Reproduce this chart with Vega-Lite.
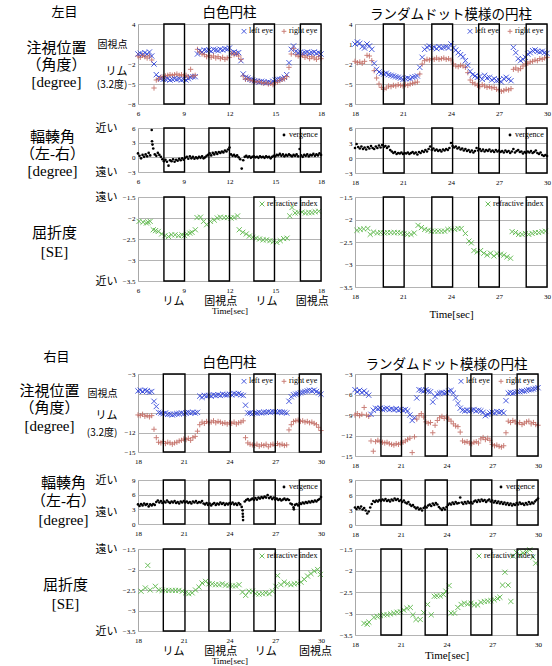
{
"$schema":"https://vega.github.io/schema/vega-lite/v6.json",
"background":"white",
"padding":{"left":18,"top":4,"right":0,"bottom":0},
"autosize":{"type":"pad"},
"config":{
 "view":{"stroke":"#a8a8a8","strokeWidth":1},
 "axis":{"labelFont":"Liberation Serif","labelFontSize":7,"labelColor":"#000","domain":false,"ticks":false,"gridColor":"#b4b4b4","gridWidth":1,"titleFont":"Liberation Serif","titleFontWeight":"normal","titleColor":"#000","labelOverlap":false},
 "axisX":{"grid":false,"labelPadding":5,"labelFlush":false},
 "axisY":{"labelPadding":3},
 "title":{"font":"Noto Sans CJK JP","fontSize":13.5,"fontWeight":"normal","offset":-1,"color":"#000"},
 "legend":{"orient":"top-right","direction":"horizontal","offset":3,"padding":0,"labelFont":"Liberation Serif","labelFontSize":8,"labelColor":"#000","symbolSize":22,"symbolStrokeWidth":1,"columnPadding":6,"labelOffset":1,"labelLimit":200}
},
"datasets":{
"b1":[{"a":7.7,"b":9.05},{"a":10.65,"b":12},{"a":13.6,"b":14.95},{"a":16.65,"b":18}],
"b2":[{"a":19.77,"b":21.07},{"a":22.8,"b":24.1},{"a":25.73,"b":27.02},{"a":28.7,"b":30}],
"b3":[{"a":19.66,"b":21.08},{"a":22.65,"b":24.05},{"a":25.6,"b":27},{"a":28.58,"b":30}],
"b4":[{"a":19.7,"b":21.05},{"a":22.6,"b":24.05},{"a":25.6,"b":26.97},{"a":28.63,"b":30}],
"g1":[{"t":6,"L":-0.5,"R":-0.8},{"t":6.15,"L":-0.4,"R":-1},{"t":6.3,"L":-0.6,"R":-0.7},{"t":6.45,"L":-0.3,"R":-0.9},{"t":6.6,"L":-0.5,"R":-1.1},{"t":6.75,"L":-0.2,"R":-0.8},{"t":6.9,"L":-0.8,"R":-1.4},{"t":7.05,"L":-2,"R":-5.6},{"t":7.2,"L":-3.6,"R":-4.4},{"t":7.35,"L":-4,"R":-4.3},{"t":7.5,"L":-4.2,"R":-4},{"t":7.65,"L":-4.3,"R":-3.9},{"t":7.8,"L":-4.3,"R":-3.8},{"t":7.95,"L":-4.2,"R":-3.7},{"t":8.1,"L":-4.4,"R":-3.6},{"t":8.25,"L":-4.3,"R":-3.7},{"t":8.4,"L":-4.2,"R":-3.6},{"t":8.55,"L":-4.3,"R":-3.5},{"t":8.7,"L":-4.2,"R":-3.7},{"t":8.85,"L":-4.4,"R":-3.6},{"t":9,"L":-4.3,"R":-3.8},{"t":9.15,"L":-4.4,"R":-3.7},{"t":9.3,"L":-4.2,"R":-3.9},{"t":9.45,"L":-4,"R":-2.8},{"t":9.6,"L":-3.9,"R":-3.8},{"t":9.75,"L":-3.9,"R":-3.7},{"t":9.9,"L":-0.5,"R":0.2},{"t":10.05,"L":0,"R":-0.2},{"t":10.2,"L":-0.2,"R":-0.5},{"t":10.35,"L":0.1,"R":-0.6},{"t":10.5,"L":0,"R":-0.9},{"t":10.65,"L":0.1,"R":-0.7},{"t":10.8,"L":-0.1,"R":-1},{"t":10.95,"L":0.2,"R":-0.8},{"t":11.1,"L":0.1,"R":-1.1},{"t":11.25,"L":0,"R":-0.9},{"t":11.4,"L":0.2,"R":-1.2},{"t":11.55,"L":0.1,"R":-1},{"t":11.7,"L":0.3,"R":-1.3},{"t":11.85,"L":0.2,"R":-1.1},{"t":12,"L":0.4,"R":-1},{"t":12.15,"L":-0.3,"R":-0.4},{"t":12.3,"L":-0.2,"R":-0.6},{"t":12.45,"L":-0.4,"R":-0.5},{"t":12.6,"L":-0.3,"R":-0.8},{"t":12.75,"L":-1.5,"R":-1.3},{"t":12.9,"L":-3.5,"R":-3.8},{"t":13.05,"L":-4,"R":-4.3},{"t":13.2,"L":-4.1,"R":-4.2},{"t":13.35,"L":-4.3,"R":-4.4},{"t":13.5,"L":-4.4,"R":-4.5},{"t":13.65,"L":-4.5,"R":-4.6},{"t":13.8,"L":-4.6,"R":-4.7},{"t":13.95,"L":-4.7,"R":-4.6},{"t":14.1,"L":-4.6,"R":-4.8},{"t":14.25,"L":-4.7,"R":-4.9},{"t":14.4,"L":-4.8,"R":-4.8},{"t":14.55,"L":-4.7,"R":-5},{"t":14.7,"L":-4.8,"R":-4.9},{"t":14.85,"L":-4.6,"R":-5.1},{"t":15,"L":-4.4,"R":-4.8},{"t":15.15,"L":-4.3,"R":-4.7},{"t":15.3,"L":-4.3,"R":-4.5},{"t":15.45,"L":-4.2,"R":-4.3},{"t":15.6,"L":-4,"R":-4.2},{"t":15.75,"L":-3.6,"R":-3.9},{"t":15.9,"L":-1.8,"R":-2.5},{"t":16.05,"L":0.2,"R":-0.5},{"t":16.2,"L":0.7,"R":0.3},{"t":16.35,"L":-0.1,"R":-0.6},{"t":16.5,"L":-0.3,"R":-0.8},{"t":16.65,"L":-0.2,"R":-0.9},{"t":16.8,"L":-0.4,"R":-0.7},{"t":16.95,"L":-0.3,"R":-1},{"t":17.1,"L":-0.2,"R":-0.8},{"t":17.25,"L":-0.4,"R":-1.2},{"t":17.4,"L":-0.3,"R":-0.9},{"t":17.55,"L":-0.2,"R":-1.1},{"t":17.7,"L":-0.4,"R":-1.3},{"t":17.85,"L":-0.3,"R":-0.9},{"t":18,"L":-0.5,"R":-1.2}],
"g2":[{"t":18,"L":1,"R":-1.6},{"t":18.15,"L":1.3,"R":-1.8},{"t":18.3,"L":1.1,"R":-1.7},{"t":18.45,"L":0.6,"R":-1.9},{"t":18.6,"L":0.4,"R":-1.6},{"t":18.75,"L":1,"R":-0.7},{"t":18.9,"L":0.7,"R":-0.8},{"t":19.05,"L":0.2,"R":-1.5},{"t":19.2,"L":-1.9,"R":-3},{"t":19.35,"L":-2.8,"R":-4.1},{"t":19.5,"L":-3.2,"R":-5},{"t":19.65,"L":-3.4,"R":-5.5},{"t":19.8,"L":-3.5,"R":-5.8},{"t":19.95,"L":-3.4,"R":-5.6},{"t":20.1,"L":-3.6,"R":-5.3},{"t":20.25,"L":-3.7,"R":-5.4},{"t":20.4,"L":-3.8,"R":-5.2},{"t":20.55,"L":-3.9,"R":-5.3},{"t":20.7,"L":-4,"R":-5.1},{"t":20.85,"L":-4.1,"R":-5.2},{"t":21,"L":-4.3,"R":-5.3},{"t":21.15,"L":-4.2,"R":-5.1},{"t":21.3,"L":-4.1,"R":-5.2},{"t":21.45,"L":-4.2,"R":-5},{"t":21.6,"L":-4,"R":-4.9},{"t":21.75,"L":-3.9,"R":-4.8},{"t":21.9,"L":-3.8,"R":-4.7},{"t":22.05,"L":-2.5,"R":-3.5},{"t":22.2,"L":-1,"R":-2},{"t":22.35,"L":0.2,"R":-1.5},{"t":22.5,"L":0.5,"R":-1.3},{"t":22.65,"L":0.7,"R":-1.4},{"t":22.8,"L":0.4,"R":-1.2},{"t":22.95,"L":0.5,"R":-1.3},{"t":23.1,"L":0.3,"R":-1.1},{"t":23.25,"L":0.6,"R":-1.3},{"t":23.4,"L":0.4,"R":-1.2},{"t":23.55,"L":0.5,"R":-1.1},{"t":23.7,"L":0.6,"R":-1.3},{"t":23.85,"L":0.4,"R":-1.2},{"t":24,"L":1,"R":-1.4},{"t":24.15,"L":0.4,"R":-2},{"t":24.3,"L":0.1,"R":-2.3},{"t":24.45,"L":-0.3,"R":-2.4},{"t":24.6,"L":-0.6,"R":-2.2},{"t":24.75,"L":-0.9,"R":-2.3},{"t":24.9,"L":-1.5,"R":-2.5},{"t":25.05,"L":-2.2,"R":-3.3},{"t":25.2,"L":-3.1,"R":-4.4},{"t":25.35,"L":-3.6,"R":-4.8},{"t":25.5,"L":-3.8,"R":-5},{"t":25.65,"L":-4,"R":-5.2},{"t":25.8,"L":-3.9,"R":-5.4},{"t":25.95,"L":-4.3,"R":-5.1},{"t":26.1,"L":-3.7,"R":-5.3},{"t":26.25,"L":-4.1,"R":-5.5},{"t":26.4,"L":-4,"R":-5.4},{"t":26.55,"L":-4.4,"R":-5.6},{"t":26.7,"L":-4.2,"R":-5.5},{"t":26.85,"L":-4.5,"R":-5.8},{"t":27,"L":-4.4,"R":-5.9},{"t":27.15,"L":-4.7,"R":-6.1},{"t":27.3,"L":-4.2,"R":-6},{"t":27.45,"L":-4,"R":-5.8},{"t":27.6,"L":-4.3,"R":-5.9},{"t":27.75,"L":-4.5,"R":-5.7},{"t":27.9,"L":0.5,"R":-2.8},{"t":28.05,"L":-0.3,"R":-2.6},{"t":28.2,"L":-1.2,"R":-2.9},{"t":28.35,"L":-1.5,"R":-2.7},{"t":28.5,"L":-1.3,"R":-2.3},{"t":28.65,"L":-1,"R":-2},{"t":28.8,"L":-0.5,"R":-1.9},{"t":28.95,"L":-0.3,"R":-1.7},{"t":29.1,"L":0,"R":-1.6},{"t":29.25,"L":0.1,"R":-1.4},{"t":29.4,"L":-0.1,"R":-1.5},{"t":29.55,"L":-0.2,"R":-1.2},{"t":29.7,"L":-0.1,"R":-1.3},{"t":29.85,"L":-0.3,"R":-1.1},{"t":30,"L":-0.4,"R":-1}],
"g3":[{"t":18,"L":-5.6,"R":-9.3},{"t":18.15,"L":-5.5,"R":-9.4},{"t":18.3,"L":-5.7,"R":-9.2},{"t":18.45,"L":-5.5,"R":-9.5},{"t":18.6,"L":-5.6,"R":-9.4},{"t":18.75,"L":-5.8,"R":-9.6},{"t":18.9,"L":-5.7,"R":-9.4},{"t":19.05,"L":-7.2,"R":-11.5},{"t":19.2,"L":-8,"R":-12.8},{"t":19.35,"L":-8.9,"R":-13.5},{"t":19.5,"L":-9,"R":-13.6},{"t":19.65,"L":-9.1,"R":-13.4},{"t":19.8,"L":-9,"R":-13.7},{"t":19.95,"L":-9.2,"R":-13.5},{"t":20.1,"L":-9.2,"R":-13.6},{"t":20.25,"L":-9.3,"R":-13.8},{"t":20.4,"L":-9.2,"R":-13.6},{"t":20.55,"L":-9.1,"R":-13.5},{"t":20.7,"L":-9.1,"R":-13.3},{"t":20.85,"L":-9,"R":-13.2},{"t":21,"L":-9.1,"R":-13},{"t":21.15,"L":-9,"R":-13.1},{"t":21.3,"L":-8.9,"R":-12.9},{"t":21.45,"L":-9,"R":-13.2},{"t":21.6,"L":-8.9,"R":-12.8},{"t":21.75,"L":-9,"R":-12.6},{"t":21.9,"L":-8.9,"R":-11.8},{"t":22.05,"L":-6.4,"R":-10.8},{"t":22.2,"L":-6.6,"R":-10.4},{"t":22.35,"L":-6.3,"R":-10.6},{"t":22.5,"L":-6.4,"R":-10.3},{"t":22.65,"L":-6.3,"R":-10.5},{"t":22.8,"L":-6.4,"R":-10.4},{"t":22.95,"L":-6.2,"R":-10.2},{"t":23.1,"L":-6.3,"R":-10.5},{"t":23.25,"L":-6.2,"R":-10.3},{"t":23.4,"L":-6.3,"R":-10.4},{"t":23.55,"L":-6.1,"R":-10.6},{"t":23.7,"L":-6.2,"R":-10.5},{"t":23.85,"L":-6.2,"R":-10.7},{"t":24,"L":-6.1,"R":-10.5},{"t":24.15,"L":-6.2,"R":-10.6},{"t":24.3,"L":-6,"R":-10.4},{"t":24.45,"L":-6.1,"R":-10.7},{"t":24.6,"L":-6,"R":-10.5},{"t":24.75,"L":-6.2,"R":-10.4},{"t":24.9,"L":-6.3,"R":-10.2},{"t":25.05,"L":-7.8,"R":-12.8},{"t":25.2,"L":-9,"R":-13.6},{"t":25.35,"L":-9,"R":-13.8},{"t":25.5,"L":-9.1,"R":-13.9},{"t":25.65,"L":-9,"R":-14},{"t":25.8,"L":-9,"R":-13.8},{"t":25.95,"L":-8.9,"R":-14.1},{"t":26.1,"L":-9,"R":-13.9},{"t":26.25,"L":-8.9,"R":-14},{"t":26.4,"L":-8.9,"R":-13.8},{"t":26.55,"L":-8.8,"R":-14.2},{"t":26.7,"L":-8.9,"R":-13.9},{"t":26.85,"L":-8.8,"R":-13.8},{"t":27,"L":-8.8,"R":-14},{"t":27.15,"L":-8.9,"R":-13.7},{"t":27.3,"L":-8.8,"R":-13.9},{"t":27.45,"L":-8.9,"R":-13.8},{"t":27.6,"L":-8.9,"R":-14},{"t":27.75,"L":-9,"R":-13.9},{"t":27.9,"L":-7.2,"R":-11.6},{"t":28.05,"L":-6.5,"R":-10.8},{"t":28.2,"L":-6.2,"R":-10.3},{"t":28.35,"L":-6.1,"R":-10.2},{"t":28.5,"L":-6,"R":-10.1},{"t":28.65,"L":-5.9,"R":-10.3},{"t":28.8,"L":-5.8,"R":-10.2},{"t":28.95,"L":-5.7,"R":-10.4},{"t":29.1,"L":-5.6,"R":-10.3},{"t":29.25,"L":-5.5,"R":-10.5},{"t":29.4,"L":-5.6,"R":-10.4},{"t":29.55,"L":-5.5,"R":-10.6},{"t":29.7,"L":-5.7,"R":-10.8},{"t":29.85,"L":-5.9,"R":-11.2},{"t":30,"L":-6.1,"R":-11.7}],
"g4":[{"t":18,"L":-5.3,"R":-9},{"t":18.15,"L":-5.6,"R":-8.8},{"t":18.3,"L":-5.4,"R":-9.1},{"t":18.45,"L":-5.7,"R":-8.9},{"t":18.6,"L":-5.5,"R":-7.9},{"t":18.75,"L":-5.8,"R":-9},{"t":18.9,"L":-6.1,"R":-9.2},{"t":19.05,"L":-8.9,"R":-12.8},{"t":19.2,"L":-8.3,"R":-14.3},{"t":19.35,"L":-8,"R":-12.9},{"t":19.5,"L":-8.1,"R":-12.7},{"t":19.65,"L":-8,"R":-12.9},{"t":19.8,"L":-8.2,"R":-13},{"t":19.95,"L":-8.1,"R":-13.1},{"t":20.1,"L":-8,"R":-13},{"t":20.25,"L":-8.2,"R":-13.2},{"t":20.4,"L":-8.1,"R":-13.3},{"t":20.55,"L":-8.2,"R":-13.4},{"t":20.7,"L":-8.1,"R":-13.2},{"t":20.85,"L":-8.3,"R":-13.3},{"t":21,"L":-8.2,"R":-13.1},{"t":21.15,"L":-8.3,"R":-13},{"t":21.3,"L":-8.2,"R":-12.8},{"t":21.45,"L":-8.4,"R":-12.6},{"t":21.6,"L":-9,"R":-12.4},{"t":21.75,"L":-9.8,"R":-14.5},{"t":21.9,"L":-9.4,"R":-12.2},{"t":22.05,"L":-6.5,"R":-9.6},{"t":22.2,"L":-5.3,"R":-9.1},{"t":22.35,"L":-5.4,"R":-8.8},{"t":22.5,"L":-5.5,"R":-9.3},{"t":22.65,"L":-5.3,"R":-10},{"t":22.8,"L":-5.5,"R":-10.2},{"t":22.95,"L":-5.6,"R":-10.1},{"t":23.1,"L":-7.1,"R":-11.6},{"t":23.25,"L":-6.3,"R":-10.5},{"t":23.4,"L":-5.9,"R":-9.8},{"t":23.55,"L":-5.8,"R":-9.4},{"t":23.7,"L":-5.7,"R":-9.2},{"t":23.85,"L":-5.8,"R":-9.5},{"t":24,"L":-5.7,"R":-9.3},{"t":24.15,"L":-5.5,"R":-9.6},{"t":24.3,"L":-5.4,"R":-9.9},{"t":24.45,"L":-5.8,"R":-10.3},{"t":24.6,"L":-6.5,"R":-10.6},{"t":24.75,"L":-7.3,"R":-10.7},{"t":24.9,"L":-8,"R":-11.5},{"t":25.05,"L":-8.3,"R":-12.8},{"t":25.2,"L":-8.4,"R":-13},{"t":25.35,"L":-8.3,"R":-12.9},{"t":25.5,"L":-8.4,"R":-13.1},{"t":25.65,"L":-8.3,"R":-13.2},{"t":25.8,"L":-8.2,"R":-13},{"t":25.95,"L":-8.4,"R":-12.9},{"t":26.1,"L":-8.3,"R":-13.1},{"t":26.25,"L":-8.4,"R":-12.5},{"t":26.4,"L":-8.6,"R":-12.3},{"t":26.55,"L":-9.1,"R":-12.6},{"t":26.7,"L":-8.9,"R":-12.4},{"t":26.85,"L":-8.7,"R":-12.7},{"t":27,"L":-8.6,"R":-13.3},{"t":27.15,"L":-8.7,"R":-13.5},{"t":27.3,"L":-8.5,"R":-13.4},{"t":27.45,"L":-8.6,"R":-13.6},{"t":27.6,"L":-8.5,"R":-13.7},{"t":27.75,"L":-8.7,"R":-13.5},{"t":27.9,"L":-6.9,"R":-11.6},{"t":28.05,"L":-5.8,"R":-9.9},{"t":28.2,"L":-5.7,"R":-10.1},{"t":28.35,"L":-5.8,"R":-9.8},{"t":28.5,"L":-5.7,"R":-10},{"t":28.65,"L":-5.6,"R":-10.3},{"t":28.8,"L":-5.6,"R":-10.1},{"t":28.95,"L":-5.5,"R":-10.4},{"t":29.1,"L":-5.5,"R":-10.2},{"t":29.25,"L":-5.4,"R":-10},{"t":29.4,"L":-5.3,"R":-9.9},{"t":29.55,"L":-5.3,"R":-10.3},{"t":29.7,"L":-5.2,"R":-10.1},{"t":29.85,"L":-5.1,"R":-10.4},{"t":30,"L":-5,"R":-10.5}],
"v1":[{"t":6,"v":0.8},{"t":6.1,"v":0.3},{"t":6.2,"v":-0.2},{"t":6.3,"v":0.5},{"t":6.4,"v":0.1},{"t":6.5,"v":0.6},{"t":6.6,"v":0.2},{"t":6.7,"v":0.9},{"t":6.8,"v":0.4},{"t":6.9,"v":5.6},{"t":6.92,"v":3.3},{"t":6.95,"v":2.6},{"t":7,"v":1.8},{"t":7.1,"v":0.6},{"t":7.2,"v":0.3},{"t":7.3,"v":0.9},{"t":7.4,"v":0.5},{"t":7.5,"v":0.1},{"t":7.6,"v":-0.4},{"t":7.7,"v":-0.8},{"t":7.8,"v":-0.5},{"t":7.9,"v":-0.9},{"t":8,"v":-1.7},{"t":8.1,"v":-0.6},{"t":8.2,"v":-0.8},{"t":8.3,"v":-0.4},{"t":8.4,"v":-0.9},{"t":8.5,"v":-0.5},{"t":8.6,"v":-0.7},{"t":8.7,"v":-0.3},{"t":8.8,"v":-0.6},{"t":8.9,"v":-0.2},{"t":9,"v":-0.5},{"t":9.1,"v":-0.1},{"t":9.2,"v":0.1},{"t":9.3,"v":-0.3},{"t":9.4,"v":0.2},{"t":9.5,"v":-0.2},{"t":9.6,"v":0.1},{"t":9.7,"v":-0.3},{"t":9.8,"v":0},{"t":9.9,"v":-0.2},{"t":10,"v":0.1},{"t":10.1,"v":-0.1},{"t":10.2,"v":0.2},{"t":10.3,"v":-0.2},{"t":10.4,"v":0},{"t":10.5,"v":0.3},{"t":10.6,"v":0.5},{"t":10.7,"v":0.8},{"t":10.8,"v":0.4},{"t":10.9,"v":0.9},{"t":11,"v":0.6},{"t":11.1,"v":1},{"t":11.2,"v":0.7},{"t":11.3,"v":1.1},{"t":11.4,"v":0.9},{"t":11.5,"v":1.2},{"t":11.6,"v":1},{"t":11.7,"v":1.4},{"t":11.8,"v":1.2},{"t":11.9,"v":1.6},{"t":12,"v":2},{"t":12.1,"v":0.6},{"t":12.2,"v":0.3},{"t":12.3,"v":0.5},{"t":12.4,"v":0.2},{"t":12.5,"v":0.4},{"t":12.6,"v":0},{"t":12.7,"v":-0.4},{"t":12.8,"v":-2.3},{"t":12.9,"v":-0.6},{"t":13,"v":0.1},{"t":13.1,"v":0.3},{"t":13.2,"v":0},{"t":13.3,"v":0.2},{"t":13.4,"v":-0.1},{"t":13.5,"v":0.1},{"t":13.6,"v":0.2},{"t":13.7,"v":0},{"t":13.8,"v":0.1},{"t":13.9,"v":-0.1},{"t":14,"v":0.2},{"t":14.1,"v":0},{"t":14.2,"v":0.1},{"t":14.3,"v":-0.1},{"t":14.4,"v":0.2},{"t":14.5,"v":0},{"t":14.6,"v":0.1},{"t":14.7,"v":-0.2},{"t":14.8,"v":0.1},{"t":14.9,"v":0.3},{"t":15,"v":0.2},{"t":15.1,"v":0.5},{"t":15.2,"v":0.4},{"t":15.3,"v":0.7},{"t":15.4,"v":0.3},{"t":15.5,"v":0.6},{"t":15.6,"v":0.2},{"t":15.7,"v":0.5},{"t":15.8,"v":0.3},{"t":15.9,"v":0.6},{"t":16,"v":0.4},{"t":16.1,"v":0.2},{"t":16.2,"v":0.5},{"t":16.3,"v":0.3},{"t":16.4,"v":0.6},{"t":16.5,"v":0.2},{"t":16.6,"v":1.7},{"t":16.7,"v":0.4},{"t":16.8,"v":0.1},{"t":16.9,"v":0.5},{"t":17,"v":0.3},{"t":17.1,"v":0.6},{"t":17.2,"v":0.2},{"t":17.3,"v":0.5},{"t":17.4,"v":0.4},{"t":17.5,"v":0.7},{"t":17.6,"v":0.3},{"t":17.7,"v":0.6},{"t":17.8,"v":0.4},{"t":17.9,"v":0.8},{"t":18,"v":0.5}],
"v2":[{"t":18,"v":2},{"t":18.1,"v":2.8},{"t":18.2,"v":2.2},{"t":18.3,"v":1.9},{"t":18.4,"v":2.3},{"t":18.5,"v":1.8},{"t":18.6,"v":2.1},{"t":18.7,"v":1.7},{"t":18.8,"v":2.2},{"t":18.9,"v":1.9},{"t":19,"v":2.4},{"t":19.1,"v":2},{"t":19.2,"v":1.8},{"t":19.3,"v":2.3},{"t":19.4,"v":2},{"t":19.5,"v":2.5},{"t":19.6,"v":2.1},{"t":19.7,"v":2.6},{"t":19.8,"v":2.2},{"t":19.9,"v":2.4},{"t":20,"v":2},{"t":20.1,"v":2.3},{"t":20.2,"v":1.6},{"t":20.3,"v":1.3},{"t":20.4,"v":1},{"t":20.5,"v":1.2},{"t":20.6,"v":0.8},{"t":20.7,"v":1},{"t":20.8,"v":0.9},{"t":20.9,"v":1.1},{"t":21,"v":0.8},{"t":21.1,"v":1},{"t":21.2,"v":0.9},{"t":21.3,"v":1.1},{"t":21.4,"v":0.8},{"t":21.5,"v":1},{"t":21.6,"v":1.2},{"t":21.7,"v":0.9},{"t":21.8,"v":1.1},{"t":21.9,"v":0.7},{"t":22,"v":1.2},{"t":22.1,"v":1},{"t":22.2,"v":1.4},{"t":22.3,"v":1.2},{"t":22.4,"v":1.6},{"t":22.5,"v":1.3},{"t":22.6,"v":1.8},{"t":22.7,"v":2.3},{"t":22.8,"v":1.6},{"t":22.9,"v":1.9},{"t":23,"v":1.5},{"t":23.1,"v":1.7},{"t":23.2,"v":1.4},{"t":23.3,"v":1.6},{"t":23.4,"v":1.3},{"t":23.5,"v":1.7},{"t":23.6,"v":1.5},{"t":23.7,"v":1.8},{"t":23.8,"v":1.6},{"t":23.9,"v":2},{"t":24,"v":3},{"t":24.1,"v":2.4},{"t":24.2,"v":2.1},{"t":24.3,"v":2.3},{"t":24.4,"v":1.9},{"t":24.5,"v":2.1},{"t":24.6,"v":1.7},{"t":24.7,"v":1.9},{"t":24.8,"v":1.5},{"t":24.9,"v":1.8},{"t":25,"v":1.4},{"t":25.1,"v":1.6},{"t":25.2,"v":1.2},{"t":25.3,"v":1.5},{"t":25.4,"v":1.1},{"t":25.5,"v":1.4},{"t":25.6,"v":2},{"t":25.7,"v":1.5},{"t":25.8,"v":1.8},{"t":25.9,"v":1.4},{"t":26,"v":1.7},{"t":26.1,"v":1.3},{"t":26.2,"v":1.6},{"t":26.3,"v":1.4},{"t":26.4,"v":1.7},{"t":26.5,"v":1.3},{"t":26.6,"v":1.5},{"t":26.7,"v":1.2},{"t":26.8,"v":1.6},{"t":26.9,"v":1.3},{"t":27,"v":1.5},{"t":27.1,"v":1.2},{"t":27.2,"v":1.4},{"t":27.3,"v":1.1},{"t":27.4,"v":1.5},{"t":27.5,"v":1.2},{"t":27.6,"v":1.4},{"t":27.7,"v":1},{"t":27.8,"v":1.3},{"t":27.9,"v":1.8},{"t":28,"v":1.1},{"t":28.1,"v":1.4},{"t":28.2,"v":1.6},{"t":28.3,"v":1.2},{"t":28.4,"v":1.3},{"t":28.5,"v":0.9},{"t":28.6,"v":1.2},{"t":28.7,"v":1},{"t":28.8,"v":1.3},{"t":28.9,"v":1.1},{"t":29,"v":1.4},{"t":29.1,"v":1},{"t":29.2,"v":1.2},{"t":29.3,"v":1.5},{"t":29.4,"v":1},{"t":29.5,"v":0.8},{"t":29.6,"v":1.1},{"t":29.7,"v":0.6},{"t":29.8,"v":0.4},{"t":29.9,"v":0.6},{"t":30,"v":0.4}],
"v3":[{"t":18,"v":4},{"t":18.1,"v":3.7},{"t":18.2,"v":4.1},{"t":18.3,"v":3.8},{"t":18.4,"v":4.2},{"t":18.5,"v":3.9},{"t":18.6,"v":4.1},{"t":18.7,"v":3.6},{"t":18.8,"v":4},{"t":18.9,"v":3.8},{"t":19,"v":4.1},{"t":19.1,"v":3.9},{"t":19.2,"v":4.5},{"t":19.3,"v":4.8},{"t":19.4,"v":4.4},{"t":19.5,"v":4.7},{"t":19.6,"v":4.3},{"t":19.7,"v":4.6},{"t":19.8,"v":4.4},{"t":19.9,"v":4.8},{"t":20,"v":4.5},{"t":20.1,"v":4.3},{"t":20.2,"v":4.6},{"t":20.3,"v":4.4},{"t":20.4,"v":4.7},{"t":20.5,"v":4.3},{"t":20.6,"v":4.5},{"t":20.7,"v":4.2},{"t":20.8,"v":4.6},{"t":20.9,"v":4.4},{"t":21,"v":4.7},{"t":21.1,"v":4.4},{"t":21.2,"v":4.6},{"t":21.3,"v":4.3},{"t":21.4,"v":4.5},{"t":21.5,"v":4.2},{"t":21.6,"v":4.6},{"t":21.7,"v":4.4},{"t":21.8,"v":4.7},{"t":21.9,"v":4.3},{"t":22,"v":4.5},{"t":22.1,"v":4.4},{"t":22.2,"v":4.7},{"t":22.3,"v":4.2},{"t":22.4,"v":4},{"t":22.5,"v":4.3},{"t":22.6,"v":3.9},{"t":22.7,"v":4.2},{"t":22.8,"v":3.8},{"t":22.9,"v":4.1},{"t":23,"v":4.3},{"t":23.1,"v":3.9},{"t":23.2,"v":4.2},{"t":23.3,"v":4},{"t":23.4,"v":4.4},{"t":23.5,"v":4.1},{"t":23.6,"v":4.3},{"t":23.7,"v":3.9},{"t":23.8,"v":4.2},{"t":23.9,"v":4},{"t":24,"v":4.3},{"t":24.1,"v":4.1},{"t":24.2,"v":4.4},{"t":24.3,"v":4},{"t":24.4,"v":4.2},{"t":24.5,"v":3.9},{"t":24.6,"v":4.3},{"t":24.7,"v":4},{"t":24.8,"v":3.5},{"t":24.86,"v":2.8},{"t":24.87,"v":2.1},{"t":24.88,"v":1.5},{"t":24.89,"v":0.8},{"t":25,"v":4.6},{"t":25.1,"v":4.9},{"t":25.2,"v":5.1},{"t":25.3,"v":4.8},{"t":25.4,"v":5},{"t":25.5,"v":5.2},{"t":25.6,"v":4.9},{"t":25.7,"v":5.3},{"t":25.8,"v":5},{"t":25.9,"v":5.4},{"t":26,"v":5.2},{"t":26.1,"v":5.5},{"t":26.2,"v":5.3},{"t":26.3,"v":5.6},{"t":26.4,"v":5.4},{"t":26.5,"v":5.9},{"t":26.6,"v":5.3},{"t":26.7,"v":5.5},{"t":26.8,"v":5.1},{"t":26.9,"v":5.4},{"t":27,"v":5},{"t":27.1,"v":5.2},{"t":27.2,"v":4.9},{"t":27.3,"v":5.1},{"t":27.4,"v":4.8},{"t":27.5,"v":5},{"t":27.6,"v":5.2},{"t":27.7,"v":4.9},{"t":27.8,"v":5.1},{"t":27.9,"v":4.9},{"t":28,"v":4.2},{"t":28.1,"v":4},{"t":28.2,"v":3.4},{"t":28.22,"v":3},{"t":28.3,"v":3.9},{"t":28.4,"v":4.1},{"t":28.5,"v":3.8},{"t":28.6,"v":4.3},{"t":28.7,"v":4.1},{"t":28.8,"v":4.4},{"t":28.9,"v":4.2},{"t":29,"v":4.5},{"t":29.1,"v":4.3},{"t":29.2,"v":4.6},{"t":29.3,"v":4.4},{"t":29.4,"v":4.7},{"t":29.5,"v":4.5},{"t":29.6,"v":4.8},{"t":29.7,"v":4.6},{"t":29.8,"v":4.9},{"t":29.9,"v":5.1},{"t":30,"v":5.5}],
"v4":[{"t":18,"v":3.5},{"t":18.1,"v":3.2},{"t":18.2,"v":3.6},{"t":18.3,"v":3.3},{"t":18.4,"v":3.7},{"t":18.5,"v":3.1},{"t":18.6,"v":3.4},{"t":18.7,"v":2.9},{"t":18.8,"v":2.3},{"t":18.9,"v":2.7},{"t":19,"v":3.5},{"t":19.1,"v":4.2},{"t":19.2,"v":4.8},{"t":19.3,"v":4.6},{"t":19.4,"v":4.9},{"t":19.5,"v":4.7},{"t":19.6,"v":5},{"t":19.7,"v":4.8},{"t":19.8,"v":5.1},{"t":19.9,"v":4.9},{"t":20,"v":5.2},{"t":20.1,"v":4.8},{"t":20.2,"v":5},{"t":20.3,"v":4.7},{"t":20.4,"v":5.1},{"t":20.5,"v":4.9},{"t":20.6,"v":5.3},{"t":20.7,"v":5},{"t":20.8,"v":5.2},{"t":20.9,"v":4.8},{"t":21,"v":5},{"t":21.1,"v":4.6},{"t":21.2,"v":4.9},{"t":21.3,"v":4.5},{"t":21.4,"v":4.3},{"t":21.5,"v":4.6},{"t":21.6,"v":4.1},{"t":21.7,"v":3.8},{"t":21.8,"v":4},{"t":21.9,"v":3.6},{"t":22,"v":3.3},{"t":22.1,"v":3.5},{"t":22.2,"v":3.1},{"t":22.3,"v":3.3},{"t":22.4,"v":2.9},{"t":22.5,"v":3.4},{"t":22.6,"v":3.7},{"t":22.7,"v":3.5},{"t":22.8,"v":3.9},{"t":22.9,"v":4.1},{"t":23,"v":3.8},{"t":23.1,"v":4.3},{"t":23.2,"v":4},{"t":23.3,"v":4.4},{"t":23.4,"v":4.1},{"t":23.5,"v":3.6},{"t":23.6,"v":3.3},{"t":23.7,"v":3},{"t":23.8,"v":3.4},{"t":23.9,"v":3.1},{"t":24,"v":3.6},{"t":24.1,"v":4},{"t":24.2,"v":4.3},{"t":24.3,"v":4.1},{"t":24.4,"v":4.5},{"t":24.5,"v":4.2},{"t":24.6,"v":4.6},{"t":24.7,"v":4.3},{"t":24.8,"v":4.4},{"t":24.9,"v":5.5},{"t":25,"v":4.5},{"t":25.1,"v":4.2},{"t":25.2,"v":4.6},{"t":25.3,"v":4.3},{"t":25.4,"v":4.7},{"t":25.5,"v":4.4},{"t":25.6,"v":4.6},{"t":25.7,"v":4.3},{"t":25.8,"v":4.7},{"t":25.9,"v":4.9},{"t":26,"v":4.6},{"t":26.1,"v":5},{"t":26.2,"v":4.7},{"t":26.3,"v":5.1},{"t":26.4,"v":4.8},{"t":26.5,"v":5},{"t":26.6,"v":4.6},{"t":26.7,"v":4.9},{"t":26.8,"v":5.1},{"t":26.9,"v":4.7},{"t":27,"v":4.9},{"t":27.1,"v":4.5},{"t":27.2,"v":4.8},{"t":27.3,"v":4.4},{"t":27.4,"v":4.7},{"t":27.5,"v":4.3},{"t":27.6,"v":4.6},{"t":27.7,"v":4.2},{"t":27.8,"v":4.5},{"t":27.9,"v":4.1},{"t":28,"v":4.4},{"t":28.1,"v":4},{"t":28.2,"v":4.3},{"t":28.3,"v":3.9},{"t":28.4,"v":4.2},{"t":28.5,"v":4},{"t":28.6,"v":4.4},{"t":28.7,"v":4.1},{"t":28.8,"v":4.5},{"t":28.9,"v":4.2},{"t":29,"v":4.3},{"t":29.1,"v":4},{"t":29.2,"v":4.4},{"t":29.3,"v":4.1},{"t":29.4,"v":4.6},{"t":29.5,"v":4.2},{"t":29.6,"v":4.5},{"t":29.7,"v":4.3},{"t":29.8,"v":4.7},{"t":29.9,"v":5},{"t":30,"v":5.3}],
"r1":[{"t":6.07,"v":-2.08},{"t":6.33,"v":-2.1},{"t":6.55,"v":-2.12},{"t":6.66,"v":-2.1},{"t":6.8,"v":-2.08},{"t":7,"v":-2.28},{"t":7.15,"v":-2.3},{"t":7.33,"v":-2.32},{"t":7.55,"v":-2.38},{"t":7.77,"v":-2.42},{"t":8,"v":-2.44},{"t":8.2,"v":-2.4},{"t":8.43,"v":-2.4},{"t":8.66,"v":-2.42},{"t":8.88,"v":-2.4},{"t":9.05,"v":-2.42},{"t":9.2,"v":-2.38},{"t":9.4,"v":-2.36},{"t":9.54,"v":-2.34},{"t":9.76,"v":-2.28},{"t":9.87,"v":-1.99},{"t":10.1,"v":-1.98},{"t":10.3,"v":-2.08},{"t":10.5,"v":-2.16},{"t":10.75,"v":-2.08},{"t":11,"v":-2.05},{"t":11.2,"v":-2},{"t":11.4,"v":-1.98},{"t":11.65,"v":-1.99},{"t":11.87,"v":-1.99},{"t":12.1,"v":-2},{"t":12.3,"v":-1.99},{"t":12.53,"v":-1.95},{"t":12.64,"v":-2.28},{"t":12.87,"v":-2.34},{"t":13.1,"v":-2.38},{"t":13.3,"v":-2.43},{"t":13.53,"v":-2.46},{"t":13.75,"v":-2.48},{"t":13.97,"v":-2.5},{"t":14.2,"v":-2.52},{"t":14.43,"v":-2.52},{"t":14.65,"v":-2.54},{"t":14.87,"v":-2.56},{"t":15.1,"v":-2.58},{"t":15.33,"v":-2.54},{"t":15.55,"v":-2.49},{"t":15.77,"v":-2.48},{"t":15.95,"v":-1.95},{"t":16.1,"v":-1.75},{"t":16.3,"v":-1.88},{"t":16.5,"v":-1.87},{"t":16.76,"v":-1.86},{"t":16.98,"v":-1.88},{"t":17.2,"v":-1.87},{"t":17.4,"v":-1.87},{"t":17.62,"v":-1.85},{"t":17.85,"v":-1.84}],
"r2":[{"t":18.12,"v":-2.24},{"t":18.33,"v":-2.22},{"t":18.54,"v":-2.21},{"t":18.8,"v":-2.2},{"t":18.95,"v":-2.33},{"t":19.16,"v":-2.28},{"t":19.4,"v":-2.3},{"t":19.6,"v":-2.29},{"t":19.83,"v":-2.3},{"t":20.03,"v":-2.29},{"t":20.24,"v":-2.29},{"t":20.45,"v":-2.29},{"t":20.66,"v":-2.29},{"t":20.86,"v":-2.3},{"t":21.07,"v":-2.31},{"t":21.28,"v":-2.33},{"t":21.5,"v":-2.33},{"t":21.7,"v":-2.3},{"t":21.94,"v":-2.13},{"t":22.15,"v":-2.18},{"t":22.36,"v":-2.22},{"t":22.57,"v":-2.24},{"t":22.77,"v":-2.26},{"t":22.98,"v":-2.26},{"t":23.19,"v":-2.26},{"t":23.4,"v":-2.26},{"t":23.6,"v":-2.26},{"t":23.8,"v":-2.22},{"t":24,"v":-2.22},{"t":24.23,"v":-2.22},{"t":24.44,"v":-2.2},{"t":24.64,"v":-2.2},{"t":24.9,"v":-2.31},{"t":25.12,"v":-2.48},{"t":25.27,"v":-2.52},{"t":25.43,"v":-2.69},{"t":25.64,"v":-2.72},{"t":25.85,"v":-2.69},{"t":26.05,"v":-2.75},{"t":26.26,"v":-2.79},{"t":26.47,"v":-2.75},{"t":26.68,"v":-2.81},{"t":26.88,"v":-2.76},{"t":27.1,"v":-2.77},{"t":27.3,"v":-2.79},{"t":27.5,"v":-2.83},{"t":27.72,"v":-2.86},{"t":27.82,"v":-2.27},{"t":28.03,"v":-2.29},{"t":28.23,"v":-2.33},{"t":28.44,"v":-2.33},{"t":28.65,"v":-2.31},{"t":28.86,"v":-2.33},{"t":29.07,"v":-2.31},{"t":29.27,"v":-2.29},{"t":29.48,"v":-2.29},{"t":29.69,"v":-2.27},{"t":29.9,"v":-2.26}],
"r3":[{"t":18.2,"v":-2.53},{"t":18.48,"v":-2.45},{"t":18.64,"v":-1.9},{"t":18.8,"v":-2.5},{"t":19.14,"v":-2.41},{"t":19.36,"v":-2.5},{"t":19.58,"v":-2.51},{"t":19.8,"v":-2.51},{"t":20.02,"v":-2.51},{"t":20.24,"v":-2.51},{"t":20.46,"v":-2.51},{"t":20.68,"v":-2.51},{"t":20.9,"v":-2.53},{"t":21.12,"v":-2.57},{"t":21.33,"v":-2.59},{"t":21.55,"v":-2.57},{"t":21.77,"v":-2.5},{"t":22,"v":-2.43},{"t":22.2,"v":-2.33},{"t":22.43,"v":-2.29},{"t":22.65,"v":-2.35},{"t":22.87,"v":-2.35},{"t":23.09,"v":-2.37},{"t":23.31,"v":-2.37},{"t":23.53,"v":-2.35},{"t":23.75,"v":-2.38},{"t":23.97,"v":-2.39},{"t":24.19,"v":-2.4},{"t":24.4,"v":-2.4},{"t":24.63,"v":-2.37},{"t":24.85,"v":-2.55},{"t":25.06,"v":-2.63},{"t":25.28,"v":-2.53},{"t":25.5,"v":-2.53},{"t":25.72,"v":-2.59},{"t":25.94,"v":-2.6},{"t":26.16,"v":-2.59},{"t":26.38,"v":-2.57},{"t":26.6,"v":-2.59},{"t":26.82,"v":-2.53},{"t":27.04,"v":-2.41},{"t":27.15,"v":-2.15},{"t":27.37,"v":-2.37},{"t":27.59,"v":-2.31},{"t":27.8,"v":-2.35},{"t":28.03,"v":-2.37},{"t":28.25,"v":-2.35},{"t":28.47,"v":-2.34},{"t":28.69,"v":-2.31},{"t":28.9,"v":-2.24},{"t":29.12,"v":-2.16},{"t":29.34,"v":-2.1},{"t":29.56,"v":-2.04},{"t":29.78,"v":-2},{"t":29.96,"v":-2.12}],
"r4":[{"t":18.59,"v":-3.23},{"t":18.8,"v":-3.25},{"t":18.91,"v":-3.2},{"t":19.24,"v":-3.09},{"t":19.46,"v":-3.07},{"t":19.67,"v":-3.05},{"t":19.89,"v":-3.03},{"t":20.11,"v":-3.03},{"t":20.33,"v":-3.01},{"t":20.54,"v":-2.99},{"t":20.76,"v":-2.97},{"t":20.98,"v":-2.96},{"t":21.2,"v":-2.92},{"t":21.41,"v":-2.88},{"t":21.63,"v":-2.86},{"t":21.8,"v":-3.03},{"t":22,"v":-3.14},{"t":22.28,"v":-3.14},{"t":22.5,"v":-2.98},{"t":22.76,"v":-2.79},{"t":23,"v":-3.03},{"t":23.2,"v":-2.6},{"t":23.37,"v":-2.59},{"t":23.59,"v":-2.59},{"t":23.8,"v":-2.56},{"t":23.96,"v":-2.48},{"t":24.17,"v":-2.35},{"t":24.3,"v":-2.99},{"t":24.52,"v":-2.99},{"t":24.74,"v":-2.86},{"t":24.96,"v":-2.79},{"t":25.17,"v":-2.76},{"t":25.39,"v":-2.78},{"t":25.61,"v":-2.76},{"t":25.83,"v":-2.8},{"t":26.04,"v":-2.8},{"t":26.26,"v":-2.74},{"t":26.48,"v":-2.72},{"t":26.7,"v":-2.71},{"t":26.91,"v":-2.7},{"t":27.13,"v":-2.68},{"t":27.35,"v":-2.65},{"t":27.5,"v":-2.62},{"t":27.67,"v":-2.34},{"t":27.83,"v":-2.04},{"t":28.04,"v":-2.34},{"t":28.22,"v":-2.72},{"t":28.37,"v":-1.66},{"t":28.59,"v":-1.58},{"t":28.8,"v":-1.64},{"t":29.02,"v":-1.59},{"t":29.24,"v":-1.56},{"t":29.46,"v":-1.52},{"t":29.67,"v":-1.69},{"t":29.85,"v":-1.83}]
},
"columns":2,
"spacing":{"row":24,"column":34},
"bounds":"flush",
"resolve":{"scale":{"color":"independent","shape":"independent"},"legend":{"color":"independent","shape":"independent"}},
"concat":[
  {"width":183,"height":80,"title":{"text":"白色円柱","offset":-14},"data":{"name":"g1"},
   "layer":[
    {"transform":[{"fold":["L","R"],"as":["eye","v"]}],
     "mark":{"type":"point","filled":false,"size":28,"strokeWidth":1,"opacity":0.85},
     "encoding":{
      "x":{"field":"t","type":"quantitative","scale":{"domain":[6,18],"nice":false,"zero":false},"axis":{"values":[6,9,12,15,18],"title":null}},
      "y":{"field":"v","type":"quantitative","scale":{"domain":[-8,4],"nice":false,"zero":false},"axis":{"values":[-8,-5,-2,1,4],"labelExpr":"datum.value == 1 ? '' : datum.label","title":"左目","titleAngle":0,"titleAlign":"center","titleBaseline":"middle","titleX":-74,"titleY":-13,"titleFont":"Noto Sans CJK JP","titleFontSize":13}},
      "color":{"field":"eye","type":"nominal","scale":{"domain":["L","R"],"range":["#2b3fd9","#c26a62"]},"legend":{"title":null,"labelExpr":"datum.label == 'L' ? 'left eye' : 'right eye'"}},
      "shape":{"field":"eye","type":"nominal","scale":{"domain":["L","R"],"range":["M-1,-1L1,1M1,-1L-1,1","M-1,0L1,0M0,-1L0,1"]},"legend":{"title":null,"labelExpr":"datum.label == 'L' ? 'left eye' : 'right eye'"}}
     }},
    {"data":{"name":"b1"},
     "mark":{"type":"rect","filled":false,"stroke":"#000","strokeWidth":1.4},
     "encoding":{
      "x":{"field":"a","type":"quantitative","axis":null},
      "x2":{"field":"b"},
      "y":{"datum":-8,"type":"quantitative","axis":{"orient":"left","offset":8,"grid":false,"values":[1,-3.05,-5],"labelExpr":"datum.value == 1 ? '固視点' : (datum.value < -4 ? '(3.2度)' : 'リム')","labelFont":"Noto Sans CJK JP","labelFontSize":{"condition":{"test":"datum.value == -3.05","value":11},"value":10},"title":["注視位置","（角度）","[degree]"],"titleAngle":0,"titleAlign":"center","titleBaseline":"middle","titleX":-74,"titleY":23,"titleFont":"Liberation Serif, Noto Sans CJK JP","titleFontSize":15,"titleLineHeight":17}},
      "y2":{"datum":4}
     }}
   ],
   "resolve":{"axis":{"x":"independent","y":"independent"}}},
  {"width":192,"height":80,"title":"ランダムドット模様の円柱","data":{"name":"g2"},
   "layer":[
    {"transform":[{"fold":["L","R"],"as":["eye","v"]}],
     "mark":{"type":"point","filled":false,"size":28,"strokeWidth":1,"opacity":0.85},
     "encoding":{
      "x":{"field":"t","type":"quantitative","scale":{"domain":[18,30],"nice":false,"zero":false},"axis":{"values":[18,21,24,27,30],"title":null}},
      "y":{"field":"v","type":"quantitative","scale":{"domain":[-8,4],"nice":false,"zero":false},"axis":{"values":[-8,-5,-2,1,4],"title":null}},
      "color":{"field":"eye","type":"nominal","scale":{"domain":["L","R"],"range":["#2b3fd9","#c26a62"]},"legend":{"title":null,"labelExpr":"datum.label == 'L' ? 'left eye' : 'right eye'"}},
      "shape":{"field":"eye","type":"nominal","scale":{"domain":["L","R"],"range":["M-1,-1L1,1M1,-1L-1,1","M-1,0L1,0M0,-1L0,1"]},"legend":{"title":null,"labelExpr":"datum.label == 'L' ? 'left eye' : 'right eye'"}}
     }},
    {"data":{"name":"b2"},
     "mark":{"type":"rect","filled":false,"stroke":"#000","strokeWidth":1.4},
     "encoding":{"x":{"field":"a","type":"quantitative","axis":null},"x2":{"field":"b"},"y":{"datum":-8,"type":"quantitative","axis":null},"y2":{"datum":4}}}
   ],
   "resolve":{"axis":{"x":"independent","y":"independent"}}},
  {"width":183,"height":44,"data":{"name":"v1"},
   "layer":[
    {"mark":{"type":"point","filled":true,"size":7,"opacity":1},
     "encoding":{
      "x":{"field":"t","type":"quantitative","scale":{"domain":[6,18],"nice":false,"zero":false},"axis":{"values":[6,9,12,15,18],"title":null}},
      "y":{"field":"v","type":"quantitative","scale":{"domain":[-3,6],"nice":false,"zero":false},"axis":{"values":[-3,0,3,6],"title":null}},
      "color":{"datum":"vergence","scale":{"range":["#000"]},"legend":{"title":null,"symbolSize":8}}
     }},
    {"data":{"name":"b1"},
     "mark":{"type":"rect","filled":false,"stroke":"#000","strokeWidth":1.4},
     "encoding":{
      "x":{"field":"a","type":"quantitative","axis":null},
      "x2":{"field":"b"},
      "y":{"datum":-3,"type":"quantitative","axis":{"orient":"left","offset":18,"grid":false,"values":[6,-3],"labelExpr":"datum.value > 0 ? '近い' : '遠い'","labelFont":"Noto Sans CJK JP","labelFontSize":11,"title":["輻輳角","（左-右）","[degree]"],"titleAngle":0,"titleAlign":"center","titleBaseline":"middle","titleX":-68,"titleY":8,"titleFont":"Liberation Serif, Noto Sans CJK JP","titleFontSize":15,"titleLineHeight":17}},
      "y2":{"datum":6}
     }}
   ],
   "resolve":{"axis":{"x":"independent","y":"independent"}}},
  {"width":192,"height":45,"data":{"name":"v2"},
   "layer":[
    {"mark":{"type":"point","filled":true,"size":7,"opacity":1},
     "encoding":{
      "x":{"field":"t","type":"quantitative","scale":{"domain":[18,30],"nice":false,"zero":false},"axis":{"values":[18,21,24,27,30],"title":null}},
      "y":{"field":"v","type":"quantitative","scale":{"domain":[-3,6],"nice":false,"zero":false},"axis":{"values":[-3,0,3,6],"title":null}},
      "color":{"datum":"vergence","scale":{"range":["#000"]},"legend":{"title":null,"symbolSize":8}}
     }},
    {"data":{"name":"b2"},
     "mark":{"type":"rect","filled":false,"stroke":"#000","strokeWidth":1.4},
     "encoding":{"x":{"field":"a","type":"quantitative","axis":null},"x2":{"field":"b"},"y":{"datum":-3,"type":"quantitative","axis":null},"y2":{"datum":6}}}
   ],
   "resolve":{"axis":{"x":"independent","y":"independent"}}},
  {"width":183,"height":84,"data":{"name":"r1"},
   "layer":[
    {"mark":{"type":"point","filled":false,"shape":"M-1,-1L1,1M1,-1L-1,1","size":26,"strokeWidth":1,"opacity":0.9},
     "encoding":{
      "x":{"field":"t","type":"quantitative","scale":{"domain":[6,18],"nice":false,"zero":false},"axis":{"values":[6,8.3,9,11.4,12,14.4,15,17.4,18],"labelExpr":"datum.value % 3 == 0 ? datum.label : ((datum.value == 8.3 || datum.value == 14.4) ? 'リム' : '固視点')","labelFont":{"condition":{"test":"datum.value % 3 != 0","value":"Noto Sans CJK JP"},"value":"Liberation Serif"},"labelFontSize":{"condition":{"test":"datum.value % 3 != 0","value":11},"value":7},"labelPadding":{"condition":{"test":"datum.value % 3 != 0","value":14},"value":5},"title":"Time[sec]","titleFontSize":9,"titlePadding":0}},
      "y":{"field":"v","type":"quantitative","scale":{"domain":[-3.5,-1.5],"nice":false,"zero":false},"axis":{"values":[-3.5,-3,-2.5,-2,-1.5],"format":"~g","title":null}},
      "color":{"datum":"refractive index","scale":{"range":["#5cb84a"]},"legend":{"title":null,"symbolType":"M-1,-1L1,1M1,-1L-1,1","symbolSize":22}}
     }},
    {"data":{"name":"b1"},
     "mark":{"type":"rect","filled":false,"stroke":"#000","strokeWidth":1.4},
     "encoding":{
      "x":{"field":"a","type":"quantitative","axis":null},
      "x2":{"field":"b"},
      "y":{"datum":-3.5,"type":"quantitative","axis":{"orient":"left","offset":18,"grid":false,"values":[-1.5,-3.5],"labelExpr":"datum.value > -2 ? '遠い' : '近い'","labelFont":"Noto Sans CJK JP","labelFontSize":11,"title":["屈折度","[SE]"],"titleAngle":0,"titleAlign":"center","titleBaseline":"middle","titleX":-66,"titleY":35,"titleFont":"Liberation Serif, Noto Sans CJK JP","titleFontSize":15,"titleLineHeight":19}},
      "y2":{"datum":-1.5}
     }}
   ],
   "resolve":{"axis":{"x":"independent","y":"independent"}}},
  {"width":192,"height":90,"data":{"name":"r2"},
   "layer":[
    {"mark":{"type":"point","filled":false,"shape":"M-1,-1L1,1M1,-1L-1,1","size":26,"strokeWidth":1,"opacity":0.9},
     "encoding":{
      "x":{"field":"t","type":"quantitative","scale":{"domain":[18,30],"nice":false,"zero":false},"axis":{"values":[18,21,24,27,30],"title":"Time[sec]","titleFontSize":11,"titlePadding":9}},
      "y":{"field":"v","type":"quantitative","scale":{"domain":[-3.5,-1.5],"nice":false,"zero":false},"axis":{"values":[-3.5,-3,-2.5,-2,-1.5],"format":"~g","title":null}},
      "color":{"datum":"refractive index","scale":{"range":["#5cb84a"]},"legend":{"title":null,"symbolType":"M-1,-1L1,1M1,-1L-1,1","symbolSize":22}}
     }},
    {"data":{"name":"b2"},
     "mark":{"type":"rect","filled":false,"stroke":"#000","strokeWidth":1.4},
     "encoding":{"x":{"field":"a","type":"quantitative","axis":null},"x2":{"field":"b"},"y":{"datum":-3.5,"type":"quantitative","axis":null},"y2":{"datum":-1.5}}}
   ],
   "resolve":{"axis":{"x":"independent","y":"independent"}}},
  {"width":183,"height":39,"data":{"values":[]},"mark":{"type":"point","opacity":0},"view":{"stroke":null}},
  {"width":183,"height":39,"data":{"values":[]},"mark":{"type":"point","opacity":0},"view":{"stroke":null}},
  {"width":183,"height":78,"title":{"text":"白色円柱","offset":-19},"data":{"name":"g3"},
   "layer":[
    {"transform":[{"fold":["L","R"],"as":["eye","v"]}],
     "mark":{"type":"point","filled":false,"size":28,"strokeWidth":1,"opacity":0.85},
     "encoding":{
      "x":{"field":"t","type":"quantitative","scale":{"domain":[18,30],"nice":false,"zero":false},"axis":{"values":[18,21,24,27,30],"title":null}},
      "y":{"field":"v","type":"quantitative","scale":{"domain":[-15,-3],"nice":false,"zero":false},"axis":{"values":[-15,-12,-9,-6,-3],"labelExpr":"(datum.value == -6 || datum.value == -9) ? '' : datum.label","title":"右目","titleAngle":0,"titleAlign":"center","titleBaseline":"middle","titleX":-82,"titleY":-18,"titleFont":"Noto Sans CJK JP","titleFontSize":13}},
      "color":{"field":"eye","type":"nominal","scale":{"domain":["L","R"],"range":["#2b3fd9","#c26a62"]},"legend":{"title":null,"labelExpr":"datum.label == 'L' ? 'left eye' : 'right eye'"}},
      "shape":{"field":"eye","type":"nominal","scale":{"domain":["L","R"],"range":["M-1,-1L1,1M1,-1L-1,1","M-1,0L1,0M0,-1L0,1"]},"legend":{"title":null,"labelExpr":"datum.label == 'L' ? 'left eye' : 'right eye'"}}
     }},
    {"data":{"name":"b3"},
     "mark":{"type":"rect","filled":false,"stroke":"#000","strokeWidth":1.4},
     "encoding":{
      "x":{"field":"a","type":"quantitative","axis":null},
      "x2":{"field":"b"},
      "y":{"datum":-15,"type":"quantitative","axis":{"orient":"left","offset":18,"grid":false,"values":[-6,-9.4,-12],"labelExpr":"datum.value == -6 ? '固視点' : (datum.value < -11 ? '(3.2度)' : 'リム')","labelFont":"Noto Sans CJK JP","labelFontSize":{"condition":{"test":"datum.value == -9.4","value":11},"value":10},"title":["注視位置","（角度）","[degree]"],"titleAngle":0,"titleAlign":"center","titleBaseline":"middle","titleX":-71,"titleY":16,"titleFont":"Liberation Serif, Noto Sans CJK JP","titleFontSize":15,"titleLineHeight":17.5}},
      "y2":{"datum":-3}
     }}
   ],
   "resolve":{"axis":{"x":"independent","y":"independent"}}},
  {"width":183,"height":82,"title":"ランダムドット模様の円柱","data":{"name":"g4"},
   "layer":[
    {"transform":[{"fold":["L","R"],"as":["eye","v"]}],
     "mark":{"type":"point","filled":false,"size":28,"strokeWidth":1,"opacity":0.85},
     "encoding":{
      "x":{"field":"t","type":"quantitative","scale":{"domain":[18,30],"nice":false,"zero":false},"axis":{"values":[18,21,24,27,30],"title":null}},
      "y":{"field":"v","type":"quantitative","scale":{"domain":[-15,-3],"nice":false,"zero":false},"axis":{"values":[-15,-12,-9,-6,-3],"title":null}},
      "color":{"field":"eye","type":"nominal","scale":{"domain":["L","R"],"range":["#2b3fd9","#c26a62"]},"legend":{"title":null,"labelExpr":"datum.label == 'L' ? 'left eye' : 'right eye'"}},
      "shape":{"field":"eye","type":"nominal","scale":{"domain":["L","R"],"range":["M-1,-1L1,1M1,-1L-1,1","M-1,0L1,0M0,-1L0,1"]},"legend":{"title":null,"labelExpr":"datum.label == 'L' ? 'left eye' : 'right eye'"}}
     }},
    {"data":{"name":"b4"},
     "mark":{"type":"rect","filled":false,"stroke":"#000","strokeWidth":1.4},
     "encoding":{"x":{"field":"a","type":"quantitative","axis":null},"x2":{"field":"b"},"y":{"datum":-15,"type":"quantitative","axis":null},"y2":{"datum":-3}}}
   ],
   "resolve":{"axis":{"x":"independent","y":"independent"}}},
  {"width":183,"height":44,"data":{"name":"v3"},
   "layer":[
    {"mark":{"type":"point","filled":true,"size":7,"opacity":1},
     "encoding":{
      "x":{"field":"t","type":"quantitative","scale":{"domain":[18,30],"nice":false,"zero":false},"axis":{"values":[18,21,24,27,30],"title":null}},
      "y":{"field":"v","type":"quantitative","scale":{"domain":[0,9],"nice":false,"zero":false},"axis":{"values":[0,3,6,9],"title":null}},
      "color":{"datum":"vergence","scale":{"range":["#000"]},"legend":{"title":null,"symbolSize":8}}
     }},
    {"data":{"name":"b3"},
     "mark":{"type":"rect","filled":false,"stroke":"#000","strokeWidth":1.4},
     "encoding":{
      "x":{"field":"a","type":"quantitative","axis":null},
      "x2":{"field":"b"},
      "y":{"datum":0,"type":"quantitative","axis":{"orient":"left","offset":18,"grid":false,"values":[9,2.3],"labelExpr":"datum.value > 5 ? '近い' : '遠い'","labelFont":"Noto Sans CJK JP","labelFontSize":11,"title":["輻輳角","（左-右）","[degree]"],"titleAngle":0,"titleAlign":"center","titleBaseline":"middle","titleX":-57,"titleY":2,"titleFont":"Liberation Serif, Noto Sans CJK JP","titleFontSize":15,"titleLineHeight":18.5}},
      "y2":{"datum":9}
     }}
   ],
   "resolve":{"axis":{"x":"independent","y":"independent"}}},
  {"width":183,"height":45,"data":{"name":"v4"},
   "layer":[
    {"mark":{"type":"point","filled":true,"size":7,"opacity":1},
     "encoding":{
      "x":{"field":"t","type":"quantitative","scale":{"domain":[18,30],"nice":false,"zero":false},"axis":{"values":[18,21,24,27,30],"title":null}},
      "y":{"field":"v","type":"quantitative","scale":{"domain":[0,9],"nice":false,"zero":false},"axis":{"values":[0,3,6,9],"title":null}},
      "color":{"datum":"vergence","scale":{"range":["#000"]},"legend":{"title":null,"symbolSize":8}}
     }},
    {"data":{"name":"b4"},
     "mark":{"type":"rect","filled":false,"stroke":"#000","strokeWidth":1.4},
     "encoding":{"x":{"field":"a","type":"quantitative","axis":null},"x2":{"field":"b"},"y":{"datum":0,"type":"quantitative","axis":null},"y2":{"datum":9}}}
   ],
   "resolve":{"axis":{"x":"independent","y":"independent"}}},
  {"width":183,"height":82,"data":{"name":"r3"},
   "layer":[
    {"mark":{"type":"point","filled":false,"shape":"M-1,-1L1,1M1,-1L-1,1","size":26,"strokeWidth":1,"opacity":0.9},
     "encoding":{
      "x":{"field":"t","type":"quantitative","scale":{"domain":[18,30],"nice":false,"zero":false},"axis":{"values":[18,20.3,21,23.4,24,26.35,27,29.6,30],"labelExpr":"datum.value % 3 == 0 ? datum.label : ((datum.value == 20.3 || datum.value == 26.35) ? 'リム' : '固視点')","labelFont":{"condition":{"test":"datum.value % 3 != 0","value":"Noto Sans CJK JP"},"value":"Liberation Serif"},"labelFontSize":{"condition":{"test":"datum.value % 3 != 0","value":11},"value":7},"labelPadding":{"condition":{"test":"datum.value % 3 != 0","value":14},"value":5},"title":"Time[sec]","titleFontSize":9,"titlePadding":0}},
      "y":{"field":"v","type":"quantitative","scale":{"domain":[-3.5,-1.5],"nice":false,"zero":false},"axis":{"values":[-3.5,-3,-2.5,-2,-1.5],"format":"~g","title":null}},
      "color":{"datum":"refractive index","scale":{"range":["#5cb84a"]},"legend":{"title":null,"symbolType":"M-1,-1L1,1M1,-1L-1,1","symbolSize":22}}
     }},
    {"data":{"name":"b3"},
     "mark":{"type":"rect","filled":false,"stroke":"#000","strokeWidth":1.4},
     "encoding":{
      "x":{"field":"a","type":"quantitative","axis":null},
      "x2":{"field":"b"},
      "y":{"datum":-3.5,"type":"quantitative","axis":{"orient":"left","offset":18,"grid":false,"values":[-1.5,-3.5],"labelExpr":"datum.value > -2 ? '遠い' : '近い'","labelFont":"Noto Sans CJK JP","labelFontSize":11,"title":["屈折度","[SE]"],"titleAngle":0,"titleAlign":"center","titleBaseline":"middle","titleX":-55,"titleY":35,"titleFont":"Liberation Serif, Noto Sans CJK JP","titleFontSize":15,"titleLineHeight":19}},
      "y2":{"datum":-1.5}
     }}
   ],
   "resolve":{"axis":{"x":"independent","y":"independent"}}},
  {"width":183,"height":86,"data":{"name":"r4"},
   "layer":[
    {"mark":{"type":"point","filled":false,"shape":"M-1,-1L1,1M1,-1L-1,1","size":26,"strokeWidth":1,"opacity":0.9},
     "encoding":{
      "x":{"field":"t","type":"quantitative","scale":{"domain":[18,30],"nice":false,"zero":false},"axis":{"values":[18,21,24,27,30],"title":"Time[sec]","titleFontSize":11,"titlePadding":2}},
      "y":{"field":"v","type":"quantitative","scale":{"domain":[-3.5,-1.5],"nice":false,"zero":false},"axis":{"values":[-3.5,-3,-2.5,-2,-1.5],"format":"~g","title":null}},
      "color":{"datum":"refractive index","scale":{"range":["#5cb84a"]},"legend":{"title":null,"symbolType":"M-1,-1L1,1M1,-1L-1,1","symbolSize":22}}
     }},
    {"data":{"name":"b4"},
     "mark":{"type":"rect","filled":false,"stroke":"#000","strokeWidth":1.4},
     "encoding":{"x":{"field":"a","type":"quantitative","axis":null},"x2":{"field":"b"},"y":{"datum":-3.5,"type":"quantitative","axis":null},"y2":{"datum":-1.5}}}
   ],
   "resolve":{"axis":{"x":"independent","y":"independent"}}}
]
}
